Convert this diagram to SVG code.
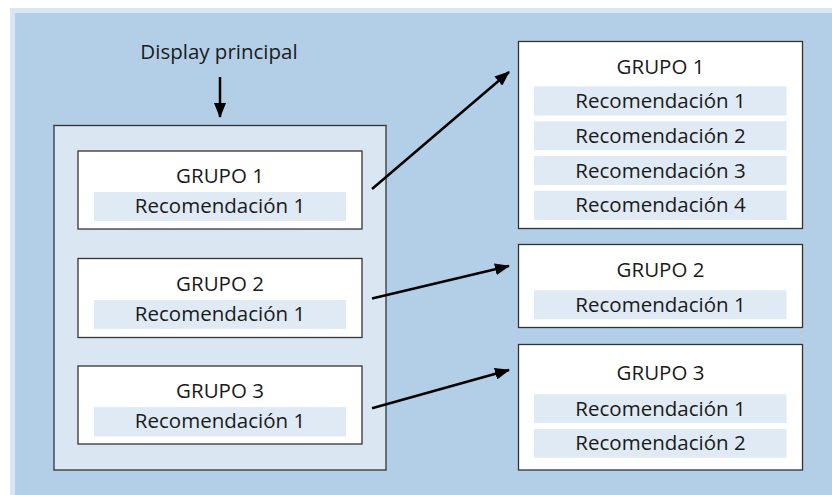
<svg xmlns="http://www.w3.org/2000/svg" width="832" height="495" viewBox="0 0 832 495">
<style>
text{font-family:"Open Sans","Noto Sans",sans-serif;font-size:20.5px;fill:#1a1a1a;text-anchor:middle}
.box{fill:#ffffff;stroke:#333333;stroke-width:1.3}
.cont{fill:#dae7f3;stroke:#333333;stroke-width:1.3}
.bar{fill:#dfeaf4}
.conn{stroke:#000000;stroke-width:2.5;fill:none;marker-end:url(#ah)}
</style>
<defs>
<marker id="ah" viewBox="0 0 15 12" refX="14" refY="6" markerWidth="15" markerHeight="12" markerUnits="userSpaceOnUse" orient="auto">
<path d="M0,0 L15,6 L0,12 Z" fill="#000000"/>
</marker>
</defs>
<rect x="0" y="0" width="832" height="495" fill="#ffffff"/>
<rect x="10" y="8" width="822" height="487" fill="#dae7f3"/>
<rect x="15" y="13" width="817" height="482" fill="#b3cfe7"/>

<g id="label-display">
<text x="219" y="59">Display principal</text>
</g>

<g id="main-display">
<rect class="cont" x="54" y="125.5" width="332" height="344.5"/>
</g>

<g id="left-grupo1">
<rect class="box" x="78" y="151" width="284" height="78"/>
<text x="220" y="183">GRUPO 1</text>
<rect class="bar" x="94" y="192" width="252" height="29"/>
<text x="220" y="213">Recomendación 1</text>
</g>

<g id="left-grupo2">
<rect class="box" x="78" y="258.5" width="284" height="79"/>
<text x="220" y="291">GRUPO 2</text>
<rect class="bar" x="94" y="300" width="252" height="29"/>
<text x="220" y="321">Recomendación 1</text>
</g>

<g id="left-grupo3">
<rect class="box" x="78" y="366" width="284" height="78"/>
<text x="220" y="398">GRUPO 3</text>
<rect class="bar" x="94" y="407" width="252" height="29.5"/>
<text x="220" y="428">Recomendación 1</text>
</g>

<g id="right-grupo1">
<rect class="box" x="518.5" y="41.5" width="284" height="187"/>
<text x="660.5" y="74">GRUPO 1</text>
<rect class="bar" x="534" y="86.5" width="252.5" height="29"/>
<text x="660.5" y="108">Recomendación 1</text>
<rect class="bar" x="534" y="121.3" width="252.5" height="29"/>
<text x="660.5" y="143">Recomendación 2</text>
<rect class="bar" x="534" y="156" width="252.5" height="29"/>
<text x="660.5" y="177.5">Recomendación 3</text>
<rect class="bar" x="534" y="190.7" width="252.5" height="29.3"/>
<text x="660.5" y="212">Recomendación 4</text>
</g>

<g id="right-grupo2">
<rect class="box" x="518.5" y="244.5" width="284" height="83"/>
<text x="660.5" y="277">GRUPO 2</text>
<rect class="bar" x="534" y="290.3" width="252.5" height="29"/>
<text x="660.5" y="311.5">Recomendación 1</text>
</g>

<g id="right-grupo3">
<rect class="box" x="518.5" y="344.5" width="284" height="125.5"/>
<text x="660.5" y="380">GRUPO 3</text>
<rect class="bar" x="534" y="394.3" width="252.5" height="28.7"/>
<text x="660.5" y="415.5">Recomendación 1</text>
<rect class="bar" x="534" y="429" width="252.5" height="28.7"/>
<text x="660.5" y="450">Recomendación 2</text>
</g>

<g id="connectors">
<line class="conn" x1="220" y1="77" x2="220" y2="117"/>
<line class="conn" x1="372" y1="189" x2="509" y2="72"/>
<line class="conn" x1="372" y1="298.5" x2="509" y2="266"/>
<line class="conn" x1="372" y1="408.3" x2="509" y2="370"/>
</g>
</svg>
